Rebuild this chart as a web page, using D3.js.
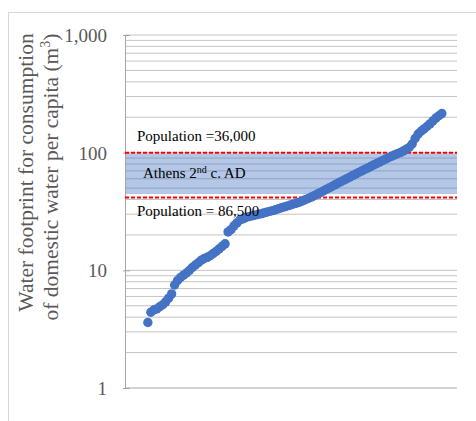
<!DOCTYPE html>
<html>
<head>
<meta charset="utf-8">
<script src="https://cdn.jsdelivr.net/npm/d3@7"></script>
<style>
  html, body { margin: 0; padding: 0; background: #fff; }
  svg { display: block; }
  text { font-family: "Liberation Serif", "Times New Roman", serif; }
</style>
</head>
<body>
<svg id="chart" width="476" height="421"></svg>
<script>
// ---- data ----
const footprint = [
  3.6, 4.4, 4.6, 4.7, 4.9, 5.1, 5.4, 5.8, 6.3, 7.5,
  8.2, 8.7, 9.1, 9.5, 10.0, 10.6, 11.1, 11.6, 12.2, 12.6,
  12.9, 13.3, 13.9, 14.5, 15.2, 16.0, 16.8, 21.2, 22.2, 23.9,
  25.3, 26.8, 27.4, 28.1, 28.6, 29.0, 29.4, 29.8, 30.2, 30.7,
  31.2, 31.7, 32.2, 32.7, 33.4, 34.0, 34.6, 35.3, 35.9, 36.6,
  37.2, 37.9, 38.8, 39.8, 40.8, 41.9, 43.1, 44.4, 45.7, 47.1,
  48.6, 50.1, 51.6, 53.3, 55.0, 56.7, 58.4, 60.1, 62.0, 63.9,
  65.9, 67.9, 69.9, 71.9, 74.0, 76.2, 78.5, 80.8, 83.0, 85.5,
  88.1, 90.5, 93.0, 95.4, 97.9, 100.2, 103.2, 106.9, 110.7, 118.5,
  132.0, 143.9, 152.0, 159.3, 167.0, 175.7, 186.3, 196.8, 205.8, 214.9
];
const yTickValues = [1, 10, 100, 1000];
const yDomain = [1, 1000];
const bandExtent = [44.5, 100];
const bandLabel = ["Athens 2", "nd", " c. AD"];
const popValues = [100, 41.6];
const popLabels = ["Population =36,000", "Population = 86,500"];
const yTitleLines = [["Water footprint for consumption"], ["of domestic water per capita (m", "3", ")"]];

// ---- layout ----
const svg = d3.select("#chart");
const plot = { left: 125, right: 457, top: 35, bottom: 388 };

// outer chart frame
svg.append("rect")
  .attr("x", 8.5).attr("y", 12.5)
  .attr("width", 490).attr("height", 440)
  .attr("fill", "none").attr("stroke", "#d9d9d9").attr("stroke-width", 1);

const y = d3.scaleLog().domain(yDomain).range([plot.bottom, plot.top]);
const x = d3.scaleLinear().domain([-6.7, footprint.length + 5.1]).range([plot.left, plot.right]);

// gridlines at every 1..9 x 10^n
const gridVals = [];
for (let p = 0; p < 3; p++) for (let k = 1; k <= 9; k++) gridVals.push(k * Math.pow(10, p));
gridVals.push(1000);

svg.append("g").selectAll("line").data(gridVals.filter(v => v > 1)).join("line")
  .attr("x1", plot.left).attr("x2", plot.right)
  .attr("y1", d => y(d)).attr("y2", d => y(d))
  .attr("stroke", "#c4c4c4").attr("stroke-width", 1);

// shaded band (Athens 2nd c. AD)
svg.append("rect")
  .attr("x", plot.left)
  .attr("y", y(bandExtent[1]) + 1)
  .attr("width", plot.right - plot.left)
  .attr("height", y(bandExtent[0]) - y(bandExtent[1]) - 1)
  .attr("fill", "#4472c4").attr("fill-opacity", 0.4);

// axes
const yAxis = d3.axisLeft(y).tickValues(yTickValues).tickFormat(d3.format(",")).tickSize(-5).tickPadding(18);
const gy = svg.append("g").attr("transform", `translate(${plot.left},0)`).call(yAxis);
gy.select(".domain").attr("stroke", "#a6a6a6");
gy.selectAll(".tick line").attr("stroke", "#a6a6a6").attr("x1", -2);
gy.selectAll(".tick text")
  .attr("fill", "#595959")
  .style("font-family", '"Liberation Serif", "Times New Roman", serif')
  .style("font-size", "19px")
  .attr("dy", "0.34em");

// bottom axis line at value 1
svg.append("line")
  .attr("x1", plot.left).attr("x2", plot.right)
  .attr("y1", y(1)).attr("y2", y(1))
  .attr("stroke", "#a6a6a6").attr("stroke-width", 1);

// red dashed population lines
svg.append("g").selectAll("line").data(popValues).join("line")
  .attr("x1", plot.left).attr("x2", plot.right)
  .attr("y1", d => y(d)).attr("y2", d => y(d))
  .attr("stroke", "#ff0000").attr("stroke-width", 2)
  .attr("stroke-dasharray", "4,2");

// scatter points
svg.append("g").selectAll("circle").data(footprint).join("circle")
  .attr("cx", (d, i) => x(i + 1))
  .attr("cy", d => y(d))
  .attr("r", 4.7)
  .attr("fill", "#4472c4");

// annotations
const ann = svg.append("g").style("font-size", "15px").attr("fill", "#000");
ann.append("text").attr("x", 137).attr("y", y(popValues[0]) - 12).text(popLabels[0]);
ann.append("text").attr("x", 137).attr("y", y(popValues[1]) + 18.5).text(popLabels[1]);
const at = ann.append("text").attr("x", 143)
  .attr("y", (y(bandExtent[0]) + y(bandExtent[1])) / 2 + 5);
at.append("tspan").text(bandLabel[0]);
at.append("tspan").attr("dy", -5).style("font-size", "10px").text(bandLabel[1]);
at.append("tspan").attr("dy", 5).text(bandLabel[2]);

// y-axis title (two lines, rotated)
const tg = svg.append("g").attr("fill", "#595959").style("font-size", "21.5px");
[[33, 172.5], [58, 177]].forEach(([bx, cy], li) => {
  const t = tg.append("text")
    .attr("transform", `translate(${bx},${cy}) rotate(-90)`)
    .attr("text-anchor", "middle");
  const parts = yTitleLines[li];
  t.append("tspan").text(parts[0]);
  if (parts.length > 2) {
    t.append("tspan").attr("dy", -8).style("font-size", "14px").text(parts[1]);
    t.append("tspan").attr("dy", 8).text(parts[2]);
  }
});
</script>
</body>
</html>
